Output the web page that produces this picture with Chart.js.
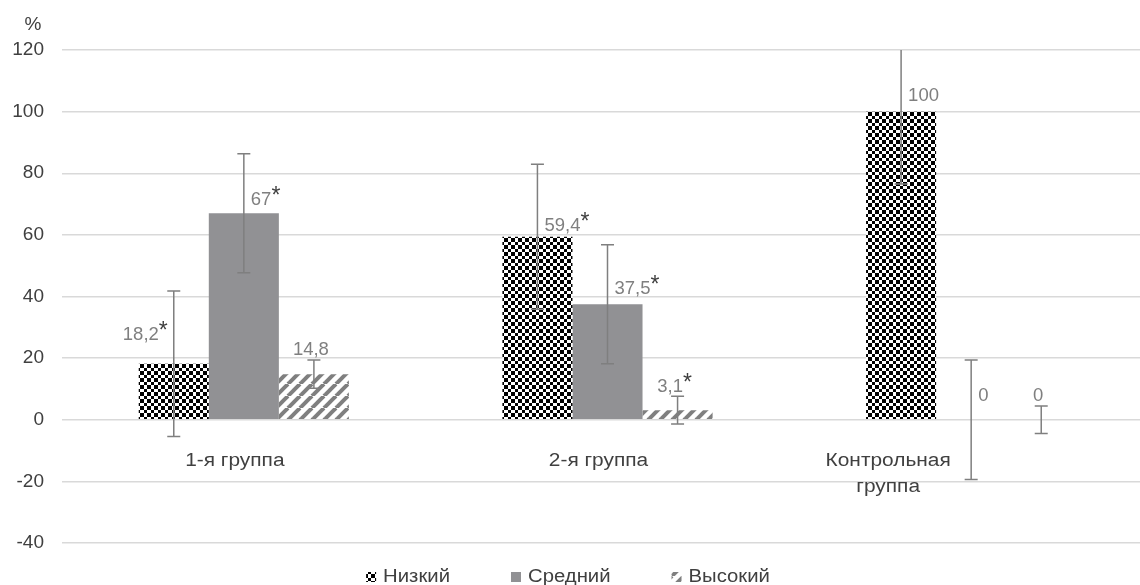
<!DOCTYPE html>
<html>
<head>
<meta charset="utf-8">
<script src="https://cdn.jsdelivr.net/npm/chart.js@4.4.1/dist/chart.umd.min.js"></script>
<style>
    html, body { margin: 0; padding: 0; background: #fff; overflow: hidden; }
    #wrap { width: 1153px; height: 585px; position: relative; }
</style>
</head>
<body>
<div id="wrap"><canvas id="myChart"></canvas></div>
<script>
"use strict";
// data
var categories = ["1-я группа", "2-я группа", ["Контрольная", "группа"]];
var seriesNames = ["Низкий", "Средний", "Высокий"];
var lowValues = [18.2, 59.4, 100];
var midValues = [67, 37.5, 0];
var highValues = [14.8, 3.1, 0];
var lowErrors = [23.6, 23.5, 23.5];
var midErrors = [19.3, 19.3, 19.4];
var highErrors = [4.6, 4.5, 4.5];
var lowStars = [true, true, false];
var midStars = [true, true, false];
var highStars = [false, true, false];
var yTicks = [-40, -20, 0, 20, 40, 60, 80, 100, 120];

(function () {
    var FONT = "'Liberation Sans', Arial, sans-serif";
    var STRETCH = 1.16; // cyrillic text in the picture is a bit wider

    function makeChecker() {
        var c = document.createElement("canvas");
        c.width = 7; c.height = 7;
        var g = c.getContext("2d");
        g.fillStyle = "#fff"; g.fillRect(0, 0, 7, 7);
        g.fillStyle = "#000";
        g.fillRect(0, 0, 4, 4);
        g.fillRect(4, 4, 3, 3);
        return g.createPattern(c, "repeat");
    }

    function makeStripes() {
        var c = document.createElement("canvas");
        c.width = 12; c.height = 12;
        var g = c.getContext("2d");
        g.fillStyle = "#fff"; g.fillRect(0, 0, 12, 12);
        g.strokeStyle = "#7f7f7f"; g.lineWidth = 4;
        [-12, 0, 12].forEach(function (o) {
            g.beginPath(); g.moveTo(o, 12); g.lineTo(o + 12, 0); g.stroke();
        });
        return g.createPattern(c, "repeat");
    }

    function wideText(ctx, txt, x, y) {
        ctx.save();
        ctx.translate(x, y);
        ctx.scale(STRETCH, 1);
        ctx.fillText(txt, 0, 0);
        ctx.restore();
    }

    // label placement per series / category: [align, px above bar top]
    var labelPlace = [
        [["right", 30], ["left", 12], ["left", 17]],
        [["left", 15], ["left", 17], ["left", 25]],
        [["center", 26], ["center", 25], ["center", 25]]
    ];
    var catShift = [-9, -9, -83];

    var extras = {
        id: "extras",
        afterDatasetsDraw: function (chart) {
            var ctx = chart.ctx, area = chart.chartArea, ys = chart.scales.y;
            // error bars
            ctx.save();
            ctx.beginPath();
            ctx.rect(area.left, area.top, area.right - area.left, area.bottom - area.top);
            ctx.clip();
            ctx.strokeStyle = "#7f7f7f";
            ctx.lineWidth = 1.5;
            chart.data.datasets.forEach(function (ds, di) {
                chart.getDatasetMeta(di).data.forEach(function (bar, i) {
                    var v = ds.data[i], e = ds.errors[i];
                    var t = ys.getPixelForValue(v + e), b = ys.getPixelForValue(v - e);
                    ctx.beginPath();
                    ctx.moveTo(bar.x, t); ctx.lineTo(bar.x, b);
                    ctx.moveTo(bar.x - 6.5, t); ctx.lineTo(bar.x + 6.5, t);
                    ctx.moveTo(bar.x - 6.5, b); ctx.lineTo(bar.x + 6.5, b);
                    ctx.stroke();
                });
            });
            ctx.restore();

            // value labels
            ctx.save();
            ctx.textBaseline = "alphabetic";
            chart.data.datasets.forEach(function (ds, di) {
                chart.getDatasetMeta(di).data.forEach(function (bar, i) {
                    var txt = String(ds.data[i]).replace(".", ",");
                    ctx.font = "18.5px " + FONT;
                    var w = ctx.measureText(txt).width;
                    var starW = 0;
                    if (ds.stars[i]) {
                        ctx.font = "23px " + FONT;
                        starW = ctx.measureText("*").width;
                    }
                    var total = w + starW;
                    var p = labelPlace[di][i];
                    var x0;
                    if (p[0] === "left") x0 = bar.x + 7;
                    else if (p[0] === "right") x0 = bar.x - 6 - total;
                    else x0 = bar.x - 3 - total / 2;
                    var base = Math.min(bar.y, bar.base) - p[1] + 6.5;
                    ctx.textAlign = "left";
                    ctx.font = "18.5px " + FONT;
                    ctx.fillStyle = "#7f7f7f";
                    ctx.fillText(txt, x0, base);
                    if (ds.stars[i]) {
                        ctx.font = "23px " + FONT;
                        ctx.fillStyle = "#3f3f3f";
                        ctx.fillText("*", x0 + w, base - 2);
                    }
                });
            });
            ctx.restore();
        },
        afterDraw: function (chart) {
            var ctx = chart.ctx, xs = chart.scales.x, ys = chart.scales.y;
            var zero = ys.getPixelForValue(0);
            ctx.save();
            // category labels below the zero line
            ctx.font = "18px " + FONT;
            ctx.fillStyle = "#404040";
            ctx.textAlign = "center";
            ctx.textBaseline = "middle";
            chart.data.labels.forEach(function (lab, i) {
                var lines = Array.isArray(lab) ? lab : [lab];
                var cx = xs.getPixelForValue(i) + catShift[i];
                lines.forEach(function (ln, k) {
                    wideText(ctx, ln, cx, zero + 41 + k * 26);
                });
            });
            // axis unit
            ctx.font = "19px " + FONT;
            ctx.fillText("%", 33, chart.chartArea.top - 25);

            // legend
            ctx.font = "17.5px " + FONT;
            var items = chart.data.datasets.map(function (ds) {
                return { ds: ds, w: ctx.measureText(ds.label).width * STRETCH };
            });
            var total = 0;
            items.forEach(function (it, k) { total += 10 + 7 + it.w + (k ? 61 : 0); });
            var x = 568 - total / 2, ly = chart.height - 8;
            ctx.textAlign = "left";
            items.forEach(function (it) {
                ctx.fillStyle = it.ds.backgroundColor;
                ctx.fillRect(x, ly - 5, 10, 10);
                ctx.fillStyle = "#404040";
                wideText(ctx, it.ds.label, x + 17, ly);
                x += 17 + it.w + 61;
            });
            ctx.restore();
        }
    };

    var ctx = document.getElementById("myChart").getContext("2d");
    var chart = new Chart(ctx, {
        type: "bar",
        data: {
            labels: categories,
            datasets: [{
                label: seriesNames[0],
                backgroundColor: makeChecker(),
                data: lowValues,
                errors: lowErrors,
                stars: lowStars
            },
            {
                label: seriesNames[1],
                backgroundColor: "#919194",
                data: midValues,
                errors: midErrors,
                stars: midStars
            },
            {
                label: seriesNames[2],
                backgroundColor: makeStripes(),
                data: highValues,
                errors: highErrors,
                stars: highStars
            }]
        },
        options: {
            responsive: true,
            maintainAspectRatio: false,
            animation: false,
            layout: { padding: { top: 50, bottom: 42, left: 0, right: 0 } },
            datasets: { bar: { barPercentage: 1, categoryPercentage: 0.578, borderWidth: 0 } },
            plugins: { legend: { display: false }, tooltip: { enabled: false } },
            scales: {
                x: { display: false },
                y: {
                    min: -40,
                    max: 120,
                    afterFit: function (s) { s.width = 62; },
                    afterBuildTicks: function (s) { s.ticks = yTicks.map(function (v) { return { value: v }; }); },
                    grid: { color: "#d9d9d9", lineWidth: 1.5, drawTicks: false },
                    border: { display: false },
                    ticks: {
                        padding: 18,
                        color: "#404040",
                        font: { family: FONT, size: 19 }
                    }
                }
            }
        },
        plugins: [extras]
    });
})();
</script>
</body>
</html>
